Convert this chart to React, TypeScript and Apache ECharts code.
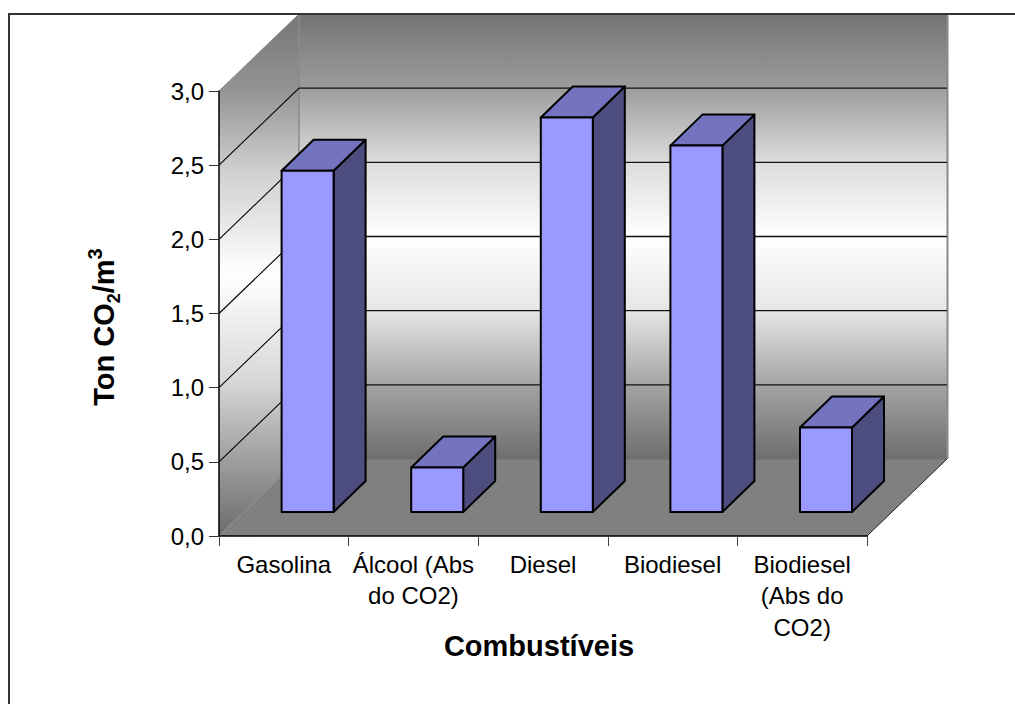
import React, { useEffect, useRef } from "react";
import * as echarts from "echarts";

const categories = ["Gasolina", "Álcool (Abs\ndo CO2)", "Diesel", "Biodiesel", "Biodiesel\n(Abs do\nCO2)"];
const values = [2.3, 0.3, 2.66, 2.47, 0.57];
const wallTicks = [0.5, 1.0, 1.5, 2.0, 2.5];

const FONT = "'Liberation Sans', Arial, sans-serif";
const DX = 80, DY = 77;
const BAR_OFFSET_X = 23.8, BAR_OFFSET_Y = 24, BAR_W = 52, BAR_DX = 32, BAR_DY = 31;
const wallStops = (edge: string) => [
  { offset: 0, color: "#747474" },
  { offset: 0.166, color: "#9c9c9c" },
  { offset: 0.333, color: "#dcdcdc" },
  { offset: 0.5, color: "#ffffff" },
  { offset: 0.667, color: "#e6e6e6" },
  { offset: 0.833, color: "#a4a4a4" },
  { offset: 1, color: edge },
];

export default function App() {
  const ref = useRef<HTMLDivElement>(null);
  useEffect(() => {
    const chart = echarts.init(ref.current!, undefined, { renderer: "svg" });
    const poly = (points: number[][], fill: any, stroke: string, lineWidth: number) => ({
      type: "polygon",
      shape: { points },
      style: { fill, stroke, lineWidth, lineJoin: "round" },
    });
    const seg = (x1: number, y1: number, x2: number, y2: number, stroke: string, lineWidth = 1) => ({
      type: "line",
      shape: { x1, y1, x2, y2 },
      style: { stroke, lineWidth },
    });
    chart.setOption({
      animation: false,
      backgroundColor: "#ffffff",
      textStyle: { fontFamily: FONT },
      grid: { left: 219, right: 148, top: 91, bottom: 168, containLabel: false },
      xAxis: {
        type: "category",
        data: categories,
        z: 10,
        axisLine: { show: true, lineStyle: { color: "#000", width: 1.5 } },
        axisTick: { show: true, alignWithLabel: false, length: 10, lineStyle: { color: "#444", width: 1 } },
        axisLabel: { interval: 0, fontSize: 24, color: "#000", margin: 13, lineHeight: 31.3, fontFamily: FONT, hideOverlap: false },
        splitLine: { show: false },
      },
      yAxis: {
        type: "value",
        min: 0,
        max: 3,
        interval: 0.5,
        z: 10,
        axisLine: { show: true, lineStyle: { color: "#000", width: 1.5 } },
        axisTick: { show: true, length: 10, lineStyle: { color: "#333", width: 1 } },
        axisLabel: { fontSize: 24, color: "#000", margin: 15, fontFamily: FONT, formatter: (v: number) => v.toFixed(1).replace(".", ",") },
        splitLine: { show: false },
      },
      graphic: [
        { type: "line", z: 100, shape: { x1: 9, y1: 14, x2: 1015, y2: 14 }, style: { stroke: "#333", lineWidth: 2 } },
        { type: "line", z: 100, shape: { x1: 9, y1: 13, x2: 9, y2: 704 }, style: { stroke: "#333", lineWidth: 2 } },
        {
          type: "text", z: 100, x: 539, y: 646,
          style: { text: "Combustíveis", fill: "#000", fontSize: 29, fontWeight: "bold", fontFamily: FONT, align: "center", verticalAlign: "middle" },
        },
        {
          type: "text", z: 100, x: 104, y: 327, rotation: Math.PI / 2,
          style: {
            text: "{a|Ton CO}{s|2}{a|/m}{u|3}",
            fill: "#000",
            align: "center",
            verticalAlign: "middle",
            rich: {
              a: { fontSize: 29, fontWeight: "bold", fontFamily: FONT, lineHeight: 38 },
              s: { fontSize: 18, fontWeight: "bold", fontFamily: FONT, lineHeight: 20, verticalAlign: "bottom" },
              u: { fontSize: 20, fontWeight: "bold", fontFamily: FONT, lineHeight: 20, verticalAlign: "top" },
            },
          },
        },
      ],
      series: [
        {
          type: "custom",
          name: "walls",
          z: 1,
          data: [0],
          silent: true,
          renderItem: (_p: any, api: any) => {
            const band = api.size([1, 0])[0];
            const first = api.coord([0, 0]);
            const x0 = first[0] - band / 2;
            const y0 = first[1];
            const x1 = api.coord([4, 0])[0] + band / 2;
            const yTop = api.coord([0, 3])[1];
            const children: any[] = [
              poly([[x0, yTop], [x0 + DX, yTop - DY], [x0 + DX, y0 - DY], [x0, y0]],
                new echarts.graphic.LinearGradient(0, 0, 0, 1, [
                  { offset: 0, color: "#767676" },
                  { offset: 0.15, color: "#959595" },
                  { offset: 0.3, color: "#cfcfcf" },
                  { offset: 0.5, color: "#ffffff" },
                  { offset: 0.7, color: "#d8d8d8" },
                  { offset: 0.85, color: "#a0a0a0" },
                  { offset: 1, color: "#6c6c6c" },
                ]), "none", 0),
              poly([[x0 + DX, yTop - DY], [x1 + DX, yTop - DY], [x1 + DX, y0 - DY], [x0 + DX, y0 - DY]],
                new echarts.graphic.LinearGradient(0, 0, 0, 1, wallStops("#6e6e6e")), "none", 0),
              poly([[x0, y0], [x1, y0], [x1 + DX, y0 - DY], [x0 + DX, y0 - DY]], "#808080", "none", 0),
              seg(x0, yTop, x0 + DX, yTop - DY, "#8a8a8a"),
              seg(x0 + DX, yTop - DY, x0 + DX, y0 - DY, "#8a8a8a", 1.5),
              seg(x1 + DX + 0.5, yTop - DY, x1 + DX + 0.5, y0 - DY, "#8a8a8a", 2),
              seg(x0, y0, x0 + DX, y0 - DY, "#8f8f8f"),
              seg(x0 + DX, y0 - DY, x1 + DX, y0 - DY, "#707070"),
              seg(x1, y0, x1 + DX, y0 - DY, "#222"),
            ];
            wallTicks.forEach((t) => {
              const y = api.coord([0, t])[1];
              children.push(seg(x0, y, x0 + DX, y - DY, "#000", 1.1));
              children.push(seg(x0 + DX, y - DY, x1 + DX, y - DY, "#111", 1.4));
            });
            return { type: "group", children };
          },
        },
        {
          type: "custom",
          name: "Ton CO2/m3",
          z: 5,
          data: values.map((v, i) => [i, v]),
          encode: { x: 0, y: 1 },
          renderItem: (_p: any, api: any) => {
            const cat = api.value(0);
            const val = api.value(1);
            const cx = api.coord([cat, 0])[0] + BAR_OFFSET_X;
            const yb = api.coord([cat, 0])[1] - BAR_OFFSET_Y;
            const yt = api.coord([cat, val])[1] - BAR_OFFSET_Y;
            const l = cx - BAR_W / 2, r = cx + BAR_W / 2;
            return {
              type: "group",
              children: [
                poly([[r, yt], [r + BAR_DX, yt - BAR_DY], [r + BAR_DX, yb - BAR_DY], [r, yb]], "#4d4d80", "#000", 2),
                poly([[l, yt], [l + BAR_DX, yt - BAR_DY], [r + BAR_DX, yt - BAR_DY], [r, yt]], "#7373bf", "#000", 2),
                poly([[l, yt], [r, yt], [r, yb], [l, yb]], "#9999ff", "#000", 2),
              ],
            };
          },
        },
      ],
    });
    return () => chart.dispose();
  }, []);
  return <div ref={ref} style={{ position: "absolute", left: 0, top: 0, width: 1015, height: 704 }} />;
}
